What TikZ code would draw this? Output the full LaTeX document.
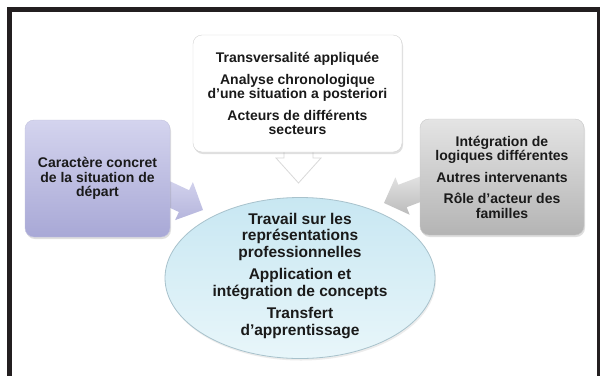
\documentclass[tikz,border=0pt]{standalone}
\usepackage{fontspec}
\setmainfont{Liberation Sans}
\usetikzlibrary{shapes.geometric,shadows}
\definecolor{frame}{HTML}{231F20}
\definecolor{lavtop}{HTML}{D4D4EE}
\definecolor{lavbot}{HTML}{A8A8D6}
\definecolor{lavline}{HTML}{C2C2DE}
\definecolor{graytop}{HTML}{E4E4E4}
\definecolor{graybot}{HTML}{B4B4B4}
\definecolor{grayline}{HTML}{C8C8C8}
\definecolor{cyantop}{HTML}{C8E7F2}
\definecolor{cyanbot}{HTML}{E8F6FA}
\definecolor{cyanline}{HTML}{A8C2CC}
\definecolor{txtcol}{HTML}{1A1A1A}
\begin{document}
\begin{tikzpicture}[x=1pt,y=-1pt,
  txt/.style={font=\bfseries\fontsize{14}{14.5}\selectfont, text=txtcol, align=center, inner sep=0pt},
  bigtxt/.style={font=\bfseries\fontsize{15.5}{16.5}\selectfont, text=txtcol, align=center, inner sep=0pt},
  box/.style={rounded corners=9pt, inner sep=0pt,
    drop shadow={opacity=0.25, shadow xshift=1pt, shadow yshift=-2pt}},
]
\useasboundingbox (0,0) rectangle (600,376);
\fill[white] (0,0) rectangle (600,376);
\fill[frame] (7,7) rectangle (600,376);
\fill[white] (12,12) rectangle (597,376);

% top chevron arrow (outline)
\draw[gray!30, fill=white, line width=0.8pt, line join=miter]
  (284,140) -- (284,158) -- (276,158) -- (298.5,183) -- (321,158) -- (313,158) -- (313,140);

% left block arrow
\shade[top color=lavtop, bottom color=lavbot!85]
  (161.9,177.5) -- (189.1,190.2) -- (192.9,182.1) -- (203,210) -- (175.1,220.1) -- (178.9,212) -- (151.7,199.3) -- cycle;

% right block arrow
\shade[top color=graytop, bottom color=graybot!90]
  (426.3,174.2) -- (398.3,184.8) -- (395.4,177.3) -- (384,203) -- (409.6,214.7) -- (406.7,207.2) -- (434.7,196.6) -- cycle;

% top box
\node[box, draw=gray!35, fill=white, minimum width=209pt, minimum height=117pt] (top) at (297.5,93.5) {};
\node[txt] (toptxt) at (top.center) {Transversalité appliquée\\[7pt] Analyse chronologique\\ d’une situation a posteriori\\[7pt] Acteurs de différents\\ secteurs};

% left box
\node[box, draw=lavline, top color=lavtop, bottom color=lavbot, minimum width=145pt, minimum height=117pt] (left) at (97.5,178.5) {};
\node[txt] (lefttxt) at (left.center) {Caractère concret\\ de la situation de\\ départ};

% right box
\node[box, draw=grayline, top color=graytop, bottom color=graybot, minimum width=164pt, minimum height=116pt] (right) at (502,177) {};
\node[txt] (righttxt) at (right.center) {Intégration de\\ logiques différentes\\[7pt] Autres intervenants\\[7pt] Rôle d’acteur des\\ familles};

% centre ellipse
\node[ellipse, draw=cyanline, line width=0.8pt, top color=cyantop, bottom color=cyanbot, minimum width=270pt, minimum height=161pt, inner sep=0pt,
  drop shadow={opacity=0.15, shadow xshift=1pt, shadow yshift=-2pt}] (centre) at (300,278) {};
\node[bigtxt] (centretxt) at ([yshift=2pt]centre.center) {Travail sur les\\ représentations\\ professionnelles\\[6pt] Application et\\ intégration de concepts\\[6pt] Transfert\\ d’apprentissage};
\end{tikzpicture}
\end{document}
